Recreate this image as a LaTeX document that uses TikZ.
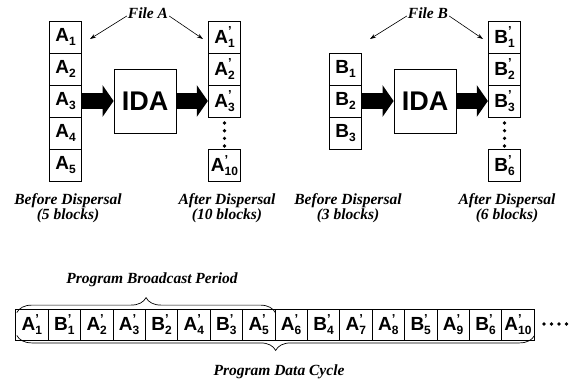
\documentclass[tikz,border=0pt]{standalone}
\usepackage{fontspec}
\setmainfont{Liberation Serif}
\newfontfamily\hv{Liberation Sans}
\usetikzlibrary{arrows.meta,decorations.pathreplacing}
\newcommand{\bl}[2]{{\hv\bfseries\fontsize{19}{19}\selectfont #1\raisebox{-0.2em}{\fontsize{12}{12}\selectfont #2}}}
\newcommand{\blp}[2]{{\hv\bfseries\fontsize{19}{19}\selectfont #1\makebox[0pt][l]{\raisebox{0.40em}{\fontsize{13}{13}\selectfont ’}}\raisebox{-0.2em}{\fontsize{12}{12}\selectfont #2}}}
\tikzset{
  blk/.style={draw, line width=0.8pt, minimum width=32.5pt, minimum height=32pt, inner sep=0pt},
  sblk/.style={draw, line width=0.8pt, minimum width=32.4pt, minimum height=31pt, inner sep=0pt},
  idabox/.style={draw, line width=0.8pt, minimum width=62pt, minimum height=64pt, inner sep=0pt, font=\hv\bfseries\fontsize{27}{27}\selectfont},
  bigarr/.style={line width=16pt, -{Triangle[length=11pt 0, width=31pt 0]}},
  thinarr/.style={line width=0.6pt, -{Stealth[length=6pt, width=4pt]}},
  lbl/.style={align=center, inner sep=0pt, font=\bfseries\itshape\fontsize{15.5}{14.5}\selectfont},
  dot/.style={fill, circle, inner sep=0pt, minimum size=3.6pt},
  brc/.style={decorate, decoration={brace, amplitude=15pt}, line width=0.7pt}
}
\begin{document}
\begin{tikzpicture}[x=1pt,y=-1pt]
\useasboundingbox (0,0) rectangle (569,381);
% ---- File A ----
\foreach \i/\y in {1/37,2/69,3/101,4/133,5/165} {
  \node[blk] (a\i) at (65.5,\y) {\bl{A}{\i}};
}
\node[idabox] (idaA) at (145,101) {IDA};
\foreach \i/\y in {1/37,2/69,3/101} {
  \node[blk] (ap\i) at (224.5,\y) {\blp{A}{\i}};
}
\node[blk] (ap10) at (224.5,165.5) {\blp{A}{10}};
\foreach \y [count=\k] in {123,130.7,138.3,146} { \node[dot] (da\k) at (224.5,\y) {}; }
\draw[bigarr] (a3.east) -- (idaA.west);
\draw[bigarr] (idaA.east) -- (ap3.west);
\node[lbl] (fa) at (148,13) {File A};
\coordinate (fa1) at (90,39);
\coordinate (fa2) at (203,39);
\draw[thinarr] ([xshift=-1pt,yshift=-3pt]fa.west) -- (fa1);
\draw[thinarr] ([xshift=1pt,yshift=-3pt]fa.east) -- (fa2);
\node[lbl] (bda) at (68,208) {Before Dispersal\\(5 blocks)};
\node[lbl] (ada) at (227,208) {After Dispersal\\(10 blocks)};
% ---- File B ----
\foreach \i/\y in {1/69,2/101,3/133} {
  \node[blk] (b\i) at (345.5,\y) {\bl{B}{\i}};
}
\node[idabox] (idaB) at (425,101) {IDA};
\foreach \i/\y in {1/37,2/69,3/101} {
  \node[blk] (bp\i) at (504.5,\y) {\blp{B}{\i}};
}
\node[blk] (bp6) at (504.5,165.5) {\blp{B}{6}};
\foreach \y [count=\k] in {123,130.7,138.3,146} { \node[dot] (db\k) at (504.5,\y) {}; }
\draw[bigarr] (b2.east) -- (idaB.west);
\draw[bigarr] (idaB.east) -- (bp3.west);
\node[lbl] (fb) at (428,13) {File B};
\coordinate (fb1) at (370,39);
\coordinate (fb2) at (483,39);
\draw[thinarr] ([xshift=-1pt,yshift=-3pt]fb.west) -- (fb1);
\draw[thinarr] ([xshift=1pt,yshift=-3pt]fb.east) -- (fb2);
\node[lbl] (bdb) at (348,208) {Before Dispersal\\(3 blocks)};
\node[lbl] (adb) at (507,208) {After Dispersal\\(6 blocks)};
% ---- broadcast strip ----
\foreach \L/\n [count=\k] in {A/1,B/1,A/2,A/3,B/2,A/4,B/3,A/5,A/6,B/4,A/7,A/8,B/5,A/9,B/6,A/10} {
  \node[sblk] (s\k) at ({15.7+32.4*(\k-0.5)},324.5) {\blp{\L}{\n}};
}
\foreach \x [count=\k] in {544,551.5,559,566.5} { \node[dot] (ds\k) at (\x,324) {}; }
\draw[brc] ([xshift=1.5pt,yshift=-4pt]s1.north west) -- ([xshift=0pt,yshift=-4pt]s8.north east);
\draw[brc] ([xshift=0pt,yshift=5pt]s16.south east) -- ([xshift=1.5pt,yshift=5pt]s1.south west);
\node[lbl] (pbp) at (152,280) {Program Broadcast Period};
\node[lbl] (pdc) at (279,372) {Program Data Cycle};
\end{tikzpicture}
\end{document}
